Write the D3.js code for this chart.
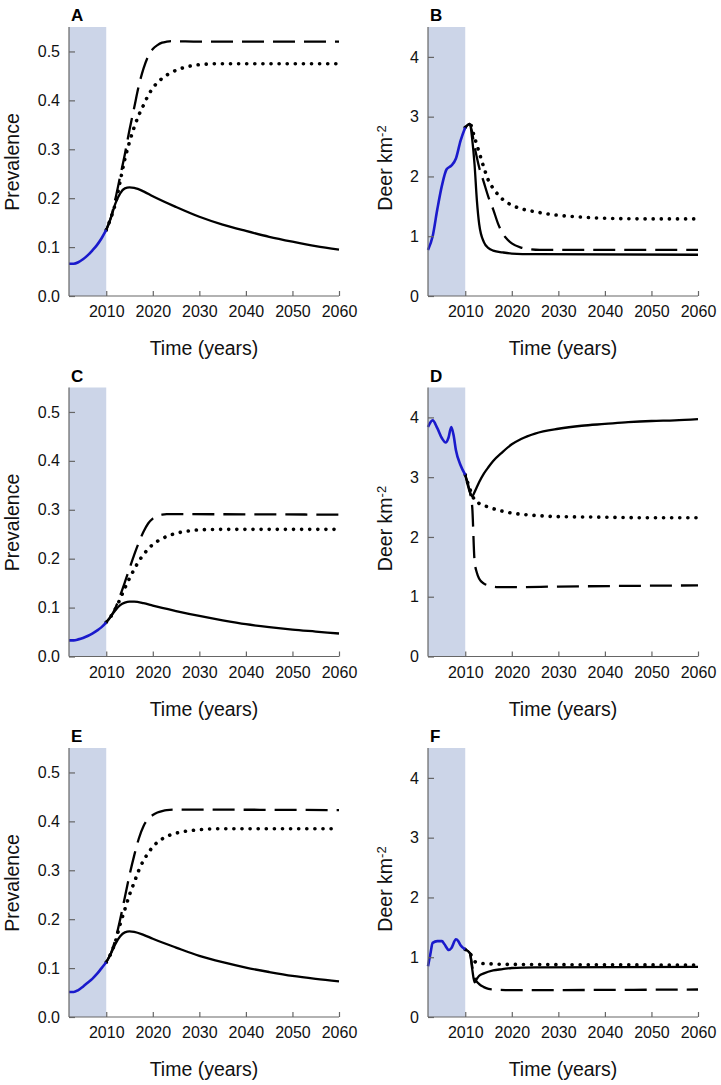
<!DOCTYPE html>
<html><head><meta charset="utf-8">
<script src="https://cdn.jsdelivr.net/npm/d3@7"></script>
<style>body{margin:0;background:#fff}svg{display:block}text{font-family:"Liberation Sans",Arial,sans-serif}</style>
</head><body><svg id="c" width="721" height="1085"></svg>
<script>
// ---- tick labels ----
const xTicks = [2010, 2020, 2030, 2040, 2050, 2060];
const prevTicks = [0, 0.1, 0.2, 0.3, 0.4, 0.5];
const deerTicks = [0, 1, 2, 3, 4];
const panelLabels = ["A", "B", "C", "D", "E", "F"];

// ---- Panel A: prevalence ----
const A_hist = [[2002,0.066],[2003,0.066],[2004,0.069],[2005,0.075],[2006,0.083],[2007,0.093],[2008,0.104],[2009,0.118],[2010,0.135]];
const A_solid = [[2010,0.135],[2011,0.16],[2012,0.19],[2013,0.21],[2014,0.22],[2015,0.222],[2016,0.221],[2018,0.214],[2020,0.204],[2025,0.182],[2030,0.162],[2035,0.146],[2040,0.133],[2045,0.121],[2050,0.111],[2055,0.102],[2060,0.095]];
const A_dash = [[2010,0.135],[2011,0.16],[2012,0.2],[2013,0.245],[2014,0.29],[2015,0.34],[2016,0.385],[2017,0.43],[2018,0.465],[2019,0.49],[2020,0.505],[2021,0.513],[2022,0.518],[2023,0.52],[2024,0.521],[2030,0.52],[2060,0.52]];
const A_dot = [[2010,0.135],[2011,0.16],[2012,0.19],[2013,0.235],[2014,0.28],[2015,0.315],[2016,0.345],[2017,0.37],[2018,0.39],[2019,0.41],[2020,0.425],[2022,0.445],[2024,0.457],[2026,0.465],[2028,0.47],[2030,0.473],[2035,0.475],[2060,0.475]];

// ---- Panel B: deer density ----
const B_hist = [[2002,0.77],[2003,1.0],[2004,1.45],[2005,1.85],[2006,2.12],[2007,2.18],[2008,2.3],[2009,2.6],[2010,2.82]];
const B_solid = [[2010,2.82],[2011,2.88],[2011.5,2.62],[2012,2.2],[2012.5,1.6],[2013,1.2],[2014,0.9],[2015,0.8],[2016,0.76],[2018,0.73],[2020,0.71],[2025,0.7],[2060,0.69]];
const B_dash = [[2010,2.82],[2011,2.88],[2012,2.5],[2013,2.15],[2014,1.9],[2015,1.65],[2016,1.45],[2017,1.22],[2018,1.05],[2019,0.95],[2020,0.88],[2022,0.81],[2024,0.78],[2026,0.77],[2060,0.77]];
const B_dot = [[2010,2.82],[2011,2.88],[2012,2.65],[2013,2.4],[2014,2.15],[2015,1.93],[2016,1.8],[2017,1.7],[2018,1.62],[2020,1.52],[2022,1.46],[2025,1.41],[2028,1.37],[2030,1.35],[2035,1.32],[2040,1.3],[2050,1.29],[2060,1.29]];

// ---- Panel C: prevalence ----
const C_hist = [[2002,0.033],[2003,0.033],[2004,0.035],[2005,0.038],[2006,0.042],[2007,0.047],[2008,0.053],[2009,0.06],[2010,0.07]];
const C_solid = [[2010,0.07],[2011,0.082],[2012,0.095],[2013,0.105],[2014,0.11],[2015,0.112],[2016,0.112],[2018,0.109],[2020,0.104],[2025,0.093],[2030,0.083],[2035,0.074],[2040,0.066],[2045,0.06],[2050,0.055],[2055,0.051],[2060,0.047]];
const C_dash = [[2010,0.07],[2011,0.082],[2012,0.1],[2013,0.125],[2014,0.152],[2015,0.18],[2016,0.208],[2017,0.233],[2018,0.255],[2019,0.272],[2020,0.282],[2021,0.287],[2022,0.29],[2023,0.291],[2060,0.29]];
const C_dot = [[2010,0.07],[2011,0.082],[2012,0.098],[2013,0.118],[2014,0.14],[2015,0.16],[2016,0.178],[2017,0.195],[2018,0.208],[2019,0.22],[2020,0.229],[2022,0.241],[2024,0.249],[2026,0.254],[2028,0.257],[2030,0.259],[2035,0.26],[2060,0.26]];

// ---- Panel D: deer density ----
const D_hist = [[2002,3.84],[2003,3.95],[2004,3.82],[2005,3.65],[2005.8,3.58],[2006.4,3.66],[2007,3.84],[2007.5,3.7],[2008,3.45],[2009,3.2],[2010,3.04]];
const D_solid = [[2010,3.04],[2011,2.75],[2011.5,2.68],[2012,2.75],[2013,2.92],[2014,3.06],[2015,3.17],[2016,3.27],[2018,3.42],[2020,3.55],[2022,3.64],[2025,3.73],[2030,3.81],[2035,3.86],[2040,3.89],[2045,3.92],[2050,3.94],[2055,3.95],[2060,3.97]];
const D_dash = [[2010,3.04],[2011,2.75],[2011.5,2.5],[2012,1.6],[2012.5,1.4],[2013,1.3],[2014,1.22],[2015,1.19],[2017,1.16],[2020,1.16],[2030,1.17],[2060,1.19]];
const D_dot = [[2010,3.04],[2011,2.8],[2012,2.62],[2013,2.56],[2015,2.5],[2018,2.43],[2020,2.4],[2025,2.36],[2030,2.34],[2040,2.33],[2050,2.32],[2060,2.32]];

// ---- Panel E: prevalence ----
const E_hist = [[2002,0.051],[2003,0.051],[2004,0.055],[2005,0.062],[2006,0.07],[2007,0.078],[2008,0.088],[2009,0.1],[2010,0.112]];
const E_solid = [[2010,0.112],[2011,0.13],[2012,0.15],[2013,0.165],[2014,0.173],[2015,0.175],[2016,0.174],[2018,0.168],[2020,0.16],[2025,0.142],[2030,0.125],[2035,0.112],[2040,0.101],[2045,0.092],[2050,0.084],[2055,0.078],[2060,0.073]];
const E_dash = [[2010,0.112],[2011,0.13],[2012,0.16],[2013,0.2],[2014,0.245],[2015,0.29],[2016,0.33],[2017,0.365],[2018,0.39],[2019,0.405],[2020,0.413],[2021,0.418],[2022,0.421],[2023,0.423],[2025,0.424],[2060,0.423]];
const E_dot = [[2010,0.112],[2011,0.13],[2012,0.155],[2013,0.19],[2014,0.22],[2015,0.25],[2016,0.275],[2017,0.3],[2018,0.32],[2019,0.335],[2020,0.348],[2022,0.364],[2024,0.373],[2026,0.378],[2028,0.381],[2030,0.383],[2035,0.385],[2060,0.385]];

// ---- Panel F: deer density ----
const F_hist = [[2002,0.85],[2002.5,1.05],[2003,1.24],[2004,1.27],[2005,1.27],[2005.5,1.22],[2006.5,1.12],[2007,1.15],[2008,1.3],[2008.5,1.27],[2009,1.2],[2010,1.13]];
const F_solid = [[2010,1.13],[2011,1.07],[2011.5,0.8],[2012,0.58],[2012.5,0.64],[2013,0.69],[2014,0.73],[2016,0.78],[2018,0.8],[2020,0.82],[2025,0.83],[2060,0.84]];
const F_dash = [[2010,1.13],[2011,1.07],[2011.5,0.85],[2012,0.65],[2013,0.55],[2014,0.5],[2015,0.47],[2016,0.46],[2020,0.45],[2060,0.46]];
const F_dot = [[2010,1.13],[2011,1.07],[2012,0.93],[2013,0.9],[2015,0.89],[2020,0.88],[2060,0.87]];

const panels = [
  {label:"A", col:0, row:0, kind:"prev", hist:A_hist, solid:A_solid, dash:A_dash, dot:A_dot},
  {label:"B", col:1, row:0, kind:"deer", hist:B_hist, solid:B_solid, dash:B_dash, dot:B_dot},
  {label:"C", col:0, row:1, kind:"prev", hist:C_hist, solid:C_solid, dash:C_dash, dot:C_dot},
  {label:"D", col:1, row:1, kind:"deer", hist:D_hist, solid:D_solid, dash:D_dash, dot:D_dot},
  {label:"E", col:0, row:2, kind:"prev", hist:E_hist, solid:E_solid, dash:E_dash, dot:E_dot},
  {label:"F", col:1, row:2, kind:"deer", hist:F_hist, solid:F_solid, dash:F_dash, dot:F_dot}
];

const svg = d3.select("#c");
const axisColor = "#666";

panels.forEach(p => {
  const ox = p.col * 359, oy = p.row * 360.5;
  const g = svg.append("g").attr("transform", `translate(${ox},${oy})`);
  const x = d3.scaleLinear().domain([2002, 2060]).range([69, 339]);
  const y = p.kind === "prev"
    ? d3.scaleLinear().domain([0, 0.55]).range([296, 27])
    : d3.scaleLinear().domain([0, 4.5]).range([296, 27]);

  // shaded historical period
  g.append("rect").attr("x", x(2002)).attr("y", y.range()[1])
    .attr("width", x(2010) - x(2002)).attr("height", y.range()[0] - y.range()[1])
    .attr("fill", "#ccd5e8");

  const line = d3.line().x(d => x(d[0])).y(d => y(d[1])).curve(d3.curveMonotoneX);

  g.append("path").datum(p.dot).attr("d", line).attr("fill", "none")
    .attr("stroke", "#000").attr("stroke-width", 3.6).attr("stroke-linecap", "round")
    .attr("stroke-dasharray", "0.1,8");
  g.append("path").datum(p.dash).attr("d", line).attr("fill", "none")
    .attr("stroke", "#000").attr("stroke-width", 2.3).attr("stroke-dasharray", "22,9");
  g.append("path").datum(p.solid).attr("d", line).attr("fill", "none")
    .attr("stroke", "#000").attr("stroke-width", 2.3);
  g.append("path").datum(p.hist).attr("d", line).attr("fill", "none")
    .attr("stroke", "#1a1acc").attr("stroke-width", 2.6);

  // axes
  const xAxis = d3.axisBottom(x).tickValues(xTicks).tickSize(-5).tickPadding(10).tickFormat(d3.format("d"));
  const gx = g.append("g").attr("transform", `translate(0,${y.range()[0]})`).call(xAxis);
  const yAxis = d3.axisLeft(y).tickValues(p.kind === "prev" ? prevTicks : deerTicks)
    .tickSize(-6).tickPadding(9).tickFormat(p.kind === "prev" ? d3.format(".1f") : d3.format("d"));
  const gy = g.append("g").attr("transform", `translate(${x(2002)},0)`).call(yAxis);
  [gx, gy].forEach(a => {
    a.select(".domain").attr("stroke", axisColor).attr("stroke-width", 1.2);
    a.selectAll(".tick line").attr("stroke", axisColor).attr("stroke-width", 1.2);
    a.selectAll(".tick text").attr("fill", "#111").style("font-size", "16px");
  });
  gx.select(".domain").attr("d", `M${x(2002)},0H${x(2060)}`);
  gy.select(".domain").attr("d", `M0,${y.range()[0]}V${y.range()[1]}`);

  // panel letter
  g.append("text").attr("x", 71).attr("y", 21).attr("font-weight", "bold")
    .style("font-size", "17px").attr("fill", "#000").text(p.label);

  // x title
  g.append("text").attr("x", (x(2002) + x(2060)) / 2).attr("y", 355)
    .attr("text-anchor", "middle").style("font-size", "19.5px").attr("fill", "#111").text("Time (years)");

  // y title
  if (p.kind === "prev") {
    g.append("text").attr("transform", `translate(19,162) rotate(-90)`)
      .attr("text-anchor", "middle").style("font-size", "19.5px").attr("fill", "#111").text("Prevalence");
  } else {
    const t = g.append("text").attr("transform", `translate(33,168) rotate(-90)`)
      .attr("text-anchor", "middle").style("font-size", "19.5px").attr("fill", "#111");
    t.append("tspan").text("Deer km");
    t.append("tspan").attr("dy", "-0.5em").style("font-size", "13px").text("-2");
  }
});
</script>
</body></html>
